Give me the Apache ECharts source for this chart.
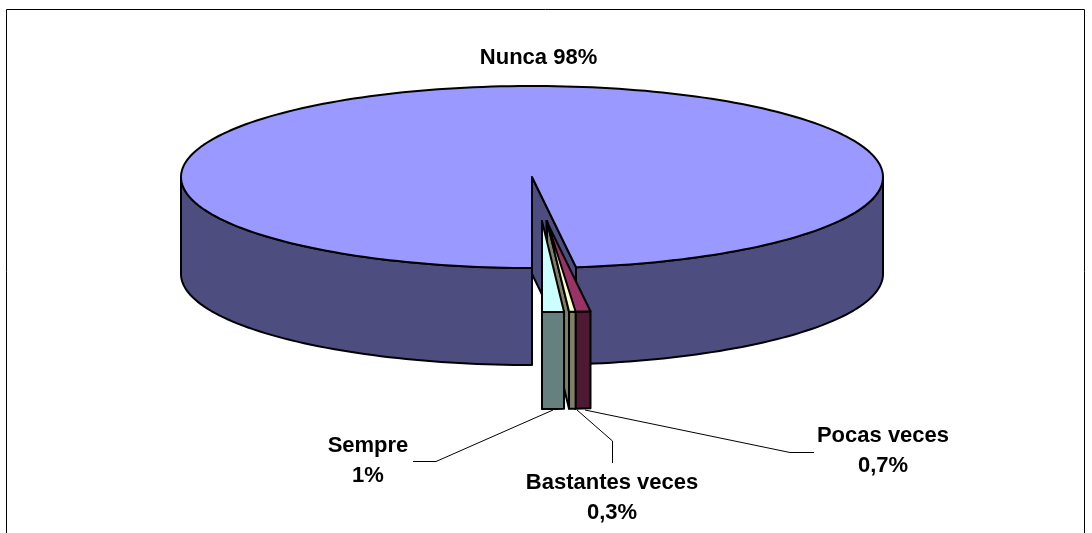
<!DOCTYPE html>
<html>
<head>
<meta charset="utf-8">
<title>Nunca 98%</title>
<script src="https://cdn.jsdelivr.net/npm/echarts@6/dist/echarts.min.js"></script>
<style>
  html, body { margin: 0; padding: 0; background: #fff; }
  #chart { width: 1092px; height: 533px; }
</style>
</head>
<body>
<div id="chart"></div>
<script>
// valores
const categories = ['Nunca', 'Pocas veces', 'Bastantes veces', 'Sempre']
const values = [98, 0.7, 0.3, 1]
const valueLabels = ['98%', '0,7%', '0,3%', '1%']

const topColors = ['#9999ff', '#993366', '#ffffcc', '#ccffff']
const sideColors = ['#4d4d80', '#4d1933', '#808066', '#668080']

// geometria de la tarta
const cx = 532
const cy = 177
const rx = 351
const ry = 91
const depth = 97
const startAngle = 180
const explode = [[0, 0], [14.5, 44], [15, 44], [10, 44]]

const labelPos = [[538.5, 58], [883, 451], [612, 498], [368, 461]]
const leaders = [
  null,
  [[585, 410], [790, 452.5], [814, 452.5]],
  [[577, 410], [612.5, 441], [612.5, 463]],
  [[553, 410], [436, 461.5], [413, 461.5]]
]

const total = values.reduce((a, b) => a + b, 0)
const bounds = []
let acc = startAngle
values.forEach(v => {
  bounds.push([acc, acc + v / total * 360])
  acc += v / total * 360
})

const rad = a => a * Math.PI / 180
const rim = (a, ox, oy) => [ox + rx * Math.sin(rad(a)), oy - ry * Math.cos(rad(a))]

const arc = (a0, a1, ox, oy) => {
  const pts = []
  const n = Math.max(2, Math.ceil((a1 - a0) / 1.5))
  for (let i = 0; i <= n; i++) {
    pts.push(rim(a0 + (a1 - a0) * i / n, ox, oy))
  }
  return pts
}

const poly = (points, fill) => ({
  type: 'polygon',
  shape: { points },
  style: { fill, stroke: '#000', lineWidth: 2, lineJoin: 'round' }
})

const renderSlice = (params, api) => {
  const i = params.dataIndex
  const [a0, a1] = bounds[i]
  const ox = cx + explode[i][0]
  const oy = cy + explode[i][1]
  const children = []

  // pared radial visible
  const edge = rim(a1, ox, oy)
  children.push(poly([[ox, oy], edge, [edge[0], edge[1] + depth], [ox, oy + depth]], sideColors[i]))

  // pared exterior, solo la mitad delantera
  for (const [f0, f1] of [[90, 270], [450, 630]]) {
    const s = Math.max(a0, f0)
    const e = Math.min(a1, f1)
    if (e > s) {
      const top = arc(s, e, ox, oy)
      const bottom = arc(s, e, ox, oy + depth).reverse()
      children.push(poly(top.concat(bottom), sideColors[i]))
    }
  }

  // cara superior
  children.push(poly([[ox, oy]].concat(arc(a0, a1, ox, oy)), topColors[i]))

  if (leaders[i]) {
    children.push({
      type: 'polyline',
      shape: { points: leaders[i] },
      style: { fill: null, stroke: '#000', lineWidth: 1 }
    })
  }

  const name = categories[i]
  children.push({
    type: 'text',
    style: {
      x: labelPos[i][0],
      y: labelPos[i][1],
      text: i === 0 ? name + ' ' + valueLabels[i] : name + '\n' + valueLabels[i],
      fill: '#000',
      font: 'bold 22px "Liberation Sans", Arial, sans-serif',
      lineHeight: 30,
      align: 'center',
      verticalAlign: 'middle'
    }
  })

  return { type: 'group', children }
}

const chart = echarts.init(document.getElementById('chart'))
chart.setOption({
  animation: false,
  backgroundColor: '#fff',
  graphic: [{
    type: 'rect',
    shape: { x: 6.5, y: 9.5, width: 1078, height: 540 },
    style: { fill: null, stroke: '#000', lineWidth: 1 },
    silent: true
  }],
  series: [{
    type: 'custom',
    coordinateSystem: 'none',
    renderItem: renderSlice,
    data: values.map((v, i) => ({ name: categories[i], value: v }))
  }]
})
</script>
</body>
</html>
